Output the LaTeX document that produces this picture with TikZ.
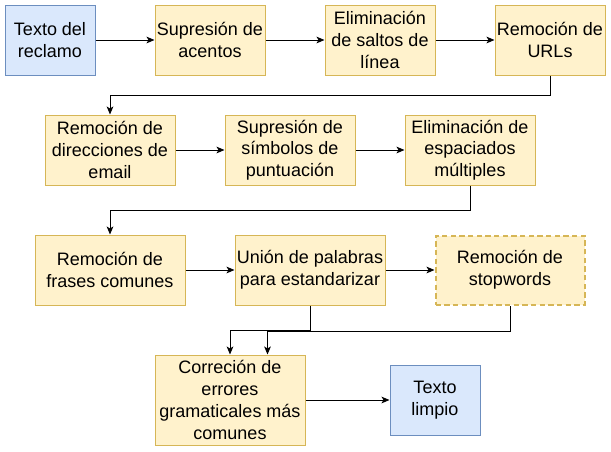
\documentclass[tikz,border=0pt]{standalone}
\usepackage{fontspec}
\setmainfont{Liberation Sans}
\usetikzlibrary{arrows.meta}
\definecolor{yfill}{HTML}{FFF2CC}
\definecolor{ydraw}{HTML}{D6B656}
\definecolor{bfill}{HTML}{DAE8FC}
\definecolor{bdraw}{HTML}{6C8EBF}
\begin{document}
\begin{tikzpicture}[x=0.75pt,y=-0.75pt,
 box/.style={draw=ydraw,fill=yfill,line width=0.75pt,align=center,inner sep=0pt,
   minimum height=52.5pt,font=\fontsize{13.5}{16.3}\selectfont},
 bluebox/.style={box,draw=bdraw,fill=bfill},
 dashbox/.style={box,line width=1.5pt,dash pattern=on 4pt off 2.5pt},
 conn/.style={line width=0.75pt,-{Stealth[length=6pt,width=5pt,inset=1.5pt]}}]
\useasboundingbox (0,0) rectangle (611,451);
% row 1
\node[bluebox,minimum width=67.5pt] (t1) at (50,40) {Texto del\\reclamo};
\node[box,minimum width=82.5pt] (s1) at (210,40) {Supresión de\\acentos};
\node[box,minimum width=82.5pt] (e1) at (380,40) {Eliminación\\de saltos de\\línea};
\node[box,minimum width=82.5pt] (u1) at (550,40) {Remoción de\\URLs};
% row 2
\node[box,minimum width=97.5pt] (em) at (110,150) {Remoción de\\direcciones de\\email};
\node[box,minimum width=97.5pt] (sy) at (290,150) {Supresión de\\símbolos de\\puntuación};
\node[box,minimum width=97.5pt] (es) at (470,150) {Eliminación de\\espaciados\\múltiples};
% row 3
\node[box,minimum width=112.5pt] (fr) at (110,270) {Remoción de\\frases comunes};
\node[box,minimum width=112.5pt] (un) at (310,270) {Unión de palabras\\para estandarizar};
\node[dashbox,minimum width=111.75pt,minimum height=51.75pt] (st) at (510,270) {Remoción de\\stopwords};
% row 4
\node[box,minimum width=112.5pt,minimum height=67.5pt] (co) at (230,400) {Correción de\\errores\\gramaticales más\\comunes};
\node[bluebox,minimum width=67.5pt] (tl) at (435,400) {Texto\\limpio};
% connectors
\draw[conn] (t1) -- (s1);
\draw[conn] (s1) -- (e1);
\draw[conn] (e1) -- (u1);
\draw[conn] (u1.south) -- ++(0,20) -| (em.north);
\draw[conn] (em) -- (sy);
\draw[conn] (sy) -- (es);
\draw[conn] (es.south) -- ++(0,25) -| (fr.north);
\draw[conn] (fr) -- (un);
\draw[conn] (un) -- (st);
\draw[conn] (un.south) -- ++(0,25) -| (co.north);
\draw[conn] ([yshift=-0.375pt]st.south) -- ++(0,25.5) -| ([xshift=28.125pt]co.north);
\draw[conn] (co) -- (tl);
\end{tikzpicture}
\end{document}
